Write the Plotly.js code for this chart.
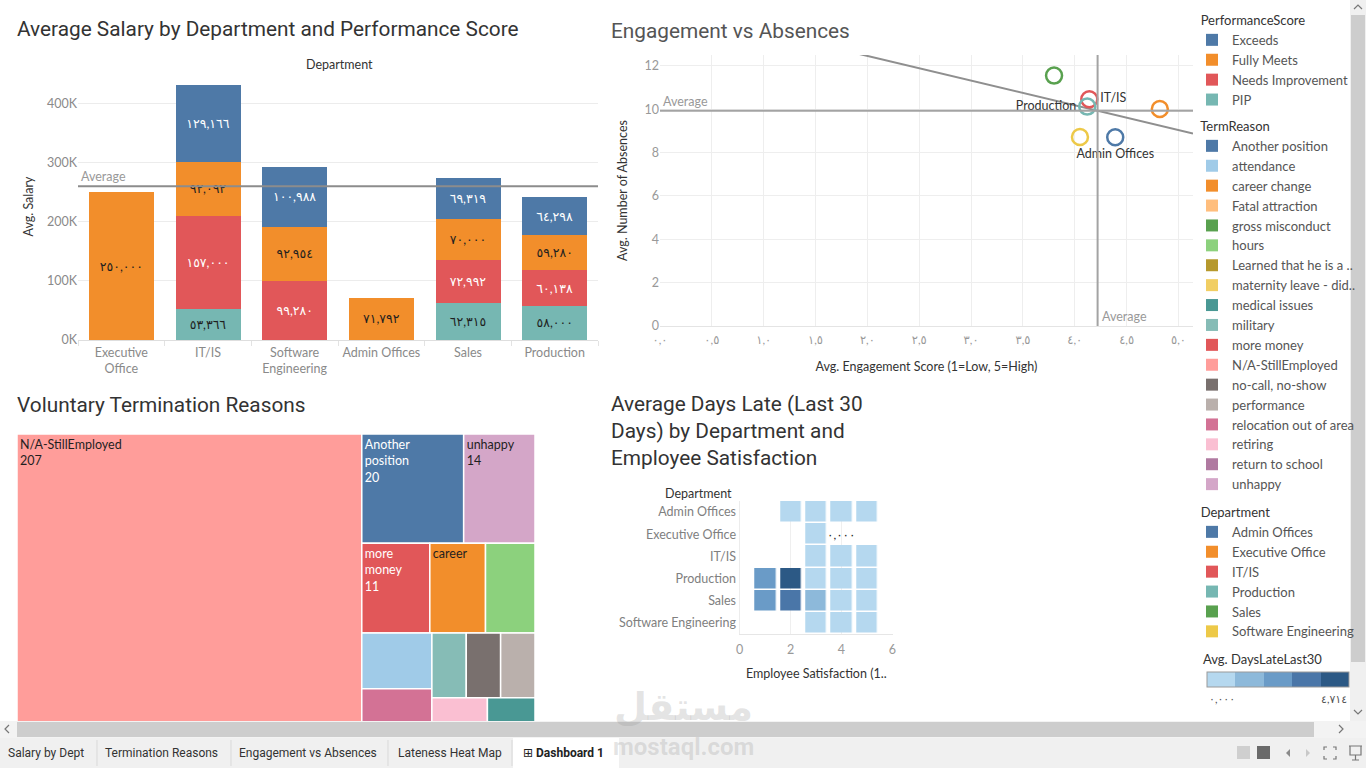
<!DOCTYPE html>
<html><head><meta charset="utf-8">
<script src="https://cdn.plot.ly/plotly-3.0.1.min.js"></script>
<style>html,body{margin:0;padding:0;overflow:hidden;background:#fff}#chart{width:1366px;height:768px}</style>
</head><body><div id="chart"></div>
<script>
// ---------------- data ----------------
const departments = ['Executive Office','IT/IS','Software Engineering','Admin Offices','Sales','Production'];
const deptTickLabels = ['Executive<br>Office','IT/IS','Software<br>Engineering','Admin Offices','Sales','Production'];
const perfScores = ['PIP','Needs Improvement','Fully Meets','Exceeds']; // stacking order, bottom -> top
const salaryPIP = [null,53366,null,null,62315,58000];
const salaryNeedsImprovement = [null,157000,99280,null,72992,60138];
const salaryFullyMeets = [250000,92092,92954,71792,70000,59280];
const salaryExceeds = [null,129166,100988,null,69319,64298];
const salaryTicks = [0,100000,200000,300000,400000];
const salaryTickLabels = ['0K','100K','200K','300K','400K'];

const scatterDepts = ['Admin Offices','Executive Office','IT/IS','Production','Sales','Software Engineering'];
const engagement = [4.39,4.82,4.14,4.12,3.80,4.05];
const absences = [8.71,10.01,10.46,10.12,11.55,8.72];
const scatterLabels = ['Admin Offices','','IT/IS','Production','',''];
const engagementTicks = [0,0.5,1,1.5,2,2.5,3,3.5,4,4.5,5];
const absenceTicks = [0,2,4,6,8,10,12];

const termReasons = ['Another position','attendance','career change','Fatal attraction','gross misconduct','hours','Learned that he is a Gangster','maternity leave - did not return','medical issues','military','more money','N/A-StillEmployed','no-call, no-show','performance','relocation out of area','retiring','return to school','unhappy'];
const termCounts = [20,7,9,1,1,8,1,3,3,4,11,207,4,4,5,4,5,14];
const termDisplay = ['Another<br>position<br>20','','career','','','','','','','','more<br>money<br>11','N/A-StillEmployed<br>207','','','','','','unhappy<br>14'];

const heatDepts = ['Admin Offices','Executive Office','IT/IS','Production','Sales','Software Engineering'];
const satisfaction = [1,2,3,4,5];
const daysLate = [
  [null,0.0,0.0,0.0,0.0],
  [null,null,0.0,null,null],
  [null,null,0.1,0.0,0.1],
  [2.3,4.714,0.2,0.1,0.1],
  [2.4,3.3,1.3,0.2,0.1],
  [null,null,0.0,0.1,0.0]
];
const satisfactionTicks = [0,2,4,6];

const legendDepartments = ['Admin Offices','Executive Office','IT/IS','Production','Sales','Software Engineering'];

// ---------------- styles ----------------
const perfColors = ['#76b7b2','#e15759','#f28e2b','#4e79a7'];
const deptColor = {'Admin Offices':'#4e79a7','Executive Office':'#f28e2b','IT/IS':'#e15759','Production':'#76b7b2','Sales':'#59a14f','Software Engineering':'#edc948'};
const termColors = ['#4e79a7','#a0cbe8','#f28e2b','#ffbe7d','#59a14f','#8cd17d','#b6992d','#f1ce63','#499894','#86bcb6','#e15759','#ff9d9a','#79706e','#bab0ac','#d37295','#fabfd2','#b07aa1','#d4a6c8'];
const scatterTextPos = ['bottom center','middle right','middle right','middle left','middle right','middle right'];
const lateColors = ['#b5d8ef','#8db9da','#6a9bc7','#4a76a8','#2c5985'];
const FONT = 'Lato, "Open Sans", "DejaVu Sans", sans-serif';
const TFONT = 'Roboto, "DejaVu Sans", sans-serif';
const W = 1366, H = 768;
const px = x => x / W, py = y => 1 - y / H;

const AR = '٠١٢٣٤٥٦٧٨٩';
const toArabic = s => String(s).replace(/[0-9]/g, d => AR[+d]);
const bright = hex => { const r=parseInt(hex.slice(1,3),16), g=parseInt(hex.slice(3,5),16), b=parseInt(hex.slice(5,7),16); return 0.299*r+0.587*g+0.114*b; };
const textOn = hex => bright(hex) < 145 ? '#ffffff' : '#1f1f1f';
const mean = a => a.reduce((s,v)=>s+v,0)/a.length;

// ---------------- traces ----------------
const data = [];
const barSeries = [salaryPIP, salaryNeedsImprovement, salaryFullyMeets, salaryExceeds];
perfScores.forEach((p,i) => {
  const vals = barSeries[i];
  data.push({type:'bar', x:departments, y:vals, name:p, xaxis:'x', yaxis:'y', legend:'legend',
    marker:{color:perfColors[i], line:{width:0}}, width:0.75,
    text: vals.map(v => v == null ? '' : toArabic(v.toLocaleString('en-US'))),
    textposition:'inside', insidetextanchor:'middle', textangle:0, constraintext:'none',
    textfont:{family:FONT, size:12.5, color:textOn(perfColors[i])}, hoverinfo:'skip'});
});
const totals = departments.map((_,j) => barSeries.reduce((s,ser)=>s+(ser[j]||0),0));
const avgSalary = mean(totals);

// scatter
const avgEng = mean(engagement), avgAbs = mean(absences);
let sxy=0, sxx=0;
engagement.forEach((x,i)=>{ sxy += (x-avgEng)*(absences[i]-avgAbs); sxx += (x-avgEng)**2; });
const slope = sxy/sxx, intercept = avgAbs - slope*avgEng;
const engRange = [0, 5.14];
data.push({type:'scatter', x:engRange, y:engRange.map(x=>intercept+slope*x), mode:'lines',
  line:{color:'#8f8f8f', width:2}, xaxis:'x2', yaxis:'y2', showlegend:false, hoverinfo:'skip'});
data.push({type:'scatter', x:engagement, y:absences, mode:'markers+text', text:scatterLabels,
  textposition:scatterTextPos, textfont:{family:FONT, size:12.5, color:'#333'},
  marker:{symbol:'circle-open', size:16, color:scatterDepts.map(d=>deptColor[d]), line:{width:2.5}},
  xaxis:'x2', yaxis:'y2', showlegend:false, cliponaxis:false, hoverinfo:'skip'});

// treemap
data.push({type:'treemap', labels:termReasons, parents:termReasons.map(()=>''), values:termCounts,
  text:termDisplay, textinfo:'text', texttemplate:'%{text}', textposition:'top left',
  textfont:{family:FONT, size:12.5, color:termColors.map(textOn)},
  marker:{colors:termColors, line:{width:1.5, color:'#ffffff'}, pad:{t:0,l:0,r:0,b:0}},
  tiling:{packing:'squarify', squarifyratio:1.618, pad:0}, pathbar:{visible:false}, sort:true,
  domain:{x:[px(17), px(535)], y:[0, py(434)]}, hoverinfo:'skip'});

// heatmap
const steps = [];
lateColors.forEach((c,i)=>{ steps.push([i/lateColors.length, c]); steps.push([(i+1)/lateColors.length, c]); });
const maxLate = Math.max(...daysLate.flat().filter(v=>v!=null));
data.push({type:'heatmap', x:satisfaction, y:heatDepts, z:daysLate, xaxis:'x3', yaxis:'y3',
  colorscale:steps, zmin:0, zmax:maxLate, xgap:4.5, ygap:1.5, hoverinfo:'skip', showscale:true,
  colorbar:{orientation:'h', x:px(1207), xanchor:'left', y:py(672), yanchor:'top', len:142, lenmode:'pixels',
    thickness:15, thicknessmode:'pixels', outlinecolor:'#9a9a9a', outlinewidth:1, xpad:0, ypad:0,
    showticklabels:false, ticks:''}});

// legend swatches
const swatch = (name, color, legendId) => ({type:'scatter', x:[null], y:[null], xaxis:'x2', yaxis:'y2',
  mode:'markers', name, legend:legendId, marker:{symbol:'square', size:12, color, line:{width:0}}, hoverinfo:'skip'});
termReasons.forEach((r,i)=> data.push(swatch(r.length > 22 ? r.slice(0,21)+'..' : r, termColors[i], 'legend2')));
legendDepartments.forEach(d => data.push(swatch(d, deptColor[d], 'legend3')));

// ---------------- layout ----------------
const tickFont = {family:FONT, size:12.5, color:'#8a8a8a'};
const titleFont = {family:FONT, size:12.5, color:'#333'};
const legendBase = {xanchor:'left', yanchor:'top', bgcolor:'rgba(0,0,0,0)', borderwidth:0,
  font:{family:FONT, size:13, color:'#555'}, itemclick:false, itemdoubleclick:false, tracegroupgap:0};
const IND = '\u00a0\u00a0';

const P = (x,y) => `${px(x)},${py(y)}`;
const shapes = [
  {type:'line', xref:'x domain', yref:'y', x0:0, x1:1, y0:avgSalary, y1:avgSalary, line:{color:'#8c8c8c', width:2}, layer:'above'},
  {type:'line', xref:'x2 domain', yref:'y2', x0:0, x1:1, y0:avgAbs, y1:avgAbs, line:{color:'#a3a3a3', width:2}, layer:'above'},
  {type:'line', xref:'x2', yref:'y2 domain', x0:avgEng, x1:avgEng, y0:0, y1:1, line:{color:'#a3a3a3', width:2}, layer:'above'},
  // vertical scrollbar
  {type:'rect', xref:'paper', yref:'paper', x0:px(1350), x1:px(1366), y0:py(721), y1:py(0), fillcolor:'#f0f0f0', line:{width:0}, layer:'above'},
  {type:'rect', xref:'paper', yref:'paper', x0:px(1351), x1:px(1365), y0:py(662), y1:py(15), fillcolor:'#cdcdcd', line:{width:0}, layer:'above'},
  {type:'path', xref:'paper', yref:'paper', path:`M${P(1354,9)}L${P(1358,5)}L${P(1362,9)}`, line:{color:'#777', width:1.2}, layer:'above'},
  {type:'path', xref:'paper', yref:'paper', path:`M${P(1354,710)}L${P(1358,714)}L${P(1362,710)}`, line:{color:'#777', width:1.2}, layer:'above'},
  // horizontal scrollbar
  {type:'rect', xref:'paper', yref:'paper', x0:0, x1:1, y0:py(738), y1:py(721), fillcolor:'#f3f3f3', line:{width:0}, layer:'above'},
  {type:'rect', xref:'paper', yref:'paper', x0:px(17), x1:px(1314), y0:py(737), y1:py(722), fillcolor:'#cdcdcd', line:{width:0}, layer:'above'},
  {type:'path', xref:'paper', yref:'paper', path:`M${P(9,725)}L${P(5,729)}L${P(9,733)}`, line:{color:'#777', width:1.2}, layer:'above'},
  {type:'path', xref:'paper', yref:'paper', path:`M${P(1339,725)}L${P(1343,729)}L${P(1339,733)}`, line:{color:'#777', width:1.2}, layer:'above'},
  // tab bar
  {type:'rect', xref:'paper', yref:'paper', x0:0, x1:1, y0:0, y1:py(738), fillcolor:'#f0f0f0', line:{width:0}, layer:'above'},
  {type:'rect', xref:'paper', yref:'paper', x0:px(513), x1:px(619), y0:0, y1:py(738), fillcolor:'#ffffff', line:{width:0}, layer:'above'},
  ...[97,231,388,512].map(x => ({type:'line', xref:'paper', yref:'paper', x0:px(x), x1:px(x), y0:py(766), y1:py(740), line:{color:'#d9d9d9', width:1}, layer:'above'})),
  {type:'rect', xref:'paper', yref:'paper', x0:px(1237), x1:px(1250), y0:py(759), y1:py(746), fillcolor:'#cfcfcf', line:{width:0}, layer:'above'},
  {type:'rect', xref:'paper', yref:'paper', x0:px(1257), x1:px(1270), y0:py(759), y1:py(746), fillcolor:'#6a6a6a', line:{width:0}, layer:'above'},
  {type:'path', xref:'paper', yref:'paper', path:`M${P(1290,749)}L${P(1286,753)}L${P(1290,757)}Z`, fillcolor:'#8a8a8a', line:{width:0}, layer:'above'},
  {type:'path', xref:'paper', yref:'paper', path:`M${P(1306,749)}L${P(1310,753)}L${P(1306,757)}Z`, fillcolor:'#c8c8c8', line:{width:0}, layer:'above'},
  {type:'path', xref:'paper', yref:'paper', path:`M${P(1324,750)}L${P(1324,747)}L${P(1327,747)}M${P(1333,747)}L${P(1336,747)}L${P(1336,750)}M${P(1336,756)}L${P(1336,759)}L${P(1333,759)}M${P(1327,759)}L${P(1324,759)}L${P(1324,756)}`, line:{color:'#777', width:1.2}, layer:'above'},
  {type:'path', xref:'paper', yref:'paper', path:`M${P(1349,746)}L${P(1362,746)}M${P(1350,746)}L${P(1350,755)}L${P(1361,755)}L${P(1361,746)}M${P(1355.5,755)}L${P(1355.5,760)}M${P(1352,760)}L${P(1359,760)}`, line:{color:'#777', width:1.2}, layer:'above'}
];

const ann = (text, x, y, o={}) => Object.assign({text, x:px(x), y:py(y), xref:'paper', yref:'paper', showarrow:false,
  xanchor:'left', yanchor:'middle', align:'left', font:{family:FONT, size:12.5, color:'#333'}}, o);
const TT = {family:TFONT, size:20.8, color:'#333'};
const annotations = [
  ann('Average Salary by Department and Performance Score', 15, 29, {font:TT}),
  ann('Engagement vs Absences', 609, 31, {font:Object.assign({}, TT, {color:'#555'})}),
  ann('Voluntary Termination Reasons', 15, 405, {font:TT}),
  ann('Average Days Late (Last 30<br>Days) by Department and<br>Employee Satisfaction', 609, 431, {font:TT}),
  ann('Department', 339, 64, {xanchor:'center'}),
  ann('Department', 734, 493, {xanchor:'right'}),
  ann('Avg. DaysLateLast30', 1201, 659, {font:{family:FONT, size:13, color:'#333'}}),
  {text:'Average', xref:'x domain', yref:'y', x:0, y:avgSalary, xanchor:'left', yanchor:'bottom', xshift:1, showarrow:false, font:{family:FONT, size:12.5, color:'#999'}},
  {text:'Average', xref:'x2 domain', yref:'y2', x:0, y:avgAbs, xanchor:'left', yanchor:'bottom', xshift:1, showarrow:false, font:{family:FONT, size:12.5, color:'#999'}},
  {text:'Average', xref:'x2', yref:'y2 domain', x:avgEng, y:0, xanchor:'left', yanchor:'bottom', xshift:2, showarrow:false, font:{family:FONT, size:12.5, color:'#999'}},
  {text:toArabic('0.000'.replace('.',',')), xref:'x3', yref:'y3', x:4, y:'Executive Office', showarrow:false, font:{family:FONT, size:12, color:'#222'}},
  ann(toArabic((0).toFixed(3).replace('.',',')), 1207, 698, {font:{family:FONT, size:11, color:'#555'}}),
  ann(toArabic(maxLate.toFixed(3).replace('.',',')), 1349, 698, {xanchor:'right', font:{family:FONT, size:11, color:'#555'}}),
  // tabs
  ann('Salary by Dept', 6, 753, {font:{family:TFONT, size:12, color:'#333'}}),
  ann('Termination Reasons', 103, 753, {font:{family:TFONT, size:12, color:'#333'}}),
  ann('Engagement vs Absences', 237, 753, {font:{family:TFONT, size:12, color:'#333'}}),
  ann('Lateness Heat Map', 396, 753, {font:{family:TFONT, size:12, color:'#333'}}),
  ann('⊞ <b>Dashboard 1</b>', 521, 753, {font:{family:TFONT, size:12, color:'#222'}}),
  // watermark
  ann('مستقل', 683, 707, {xanchor:'center', font:{family:'"DejaVu Sans", sans-serif', size:38, color:'rgba(150,150,150,0.26)', weight:700}}),
  ann('mostaql.com', 683, 747, {xanchor:'center', font:{family:'Roboto, sans-serif', size:24, color:'rgba(150,150,150,0.26)', weight:700}})
];

const layout = {
  width:W, height:H, margin:{l:0, r:0, t:0, b:0, pad:0, autoexpand:false},
  paper_bgcolor:'#ffffff', plot_bgcolor:'rgba(0,0,0,0)', font:{family:FONT, color:'#555'},
  barmode:'stack', showlegend:true,
  uniformtext:{mode:'show', minsize:12.5},
  xaxis:{domain:[px(78), px(598)], anchor:'y', type:'category', categoryorder:'array', categoryarray:departments,
    tickmode:'array', tickvals:departments, ticktext:deptTickLabels, tickangle:0, tickson:'boundaries', ticks:'outside', ticklen:5,
    ticklabelstandoff:3, tickcolor:'#e3e3e3', showgrid:false, zeroline:false, showline:false, tickfont:tickFont, fixedrange:true},
  yaxis:{domain:[py(340), py(73)], anchor:'x', range:[0, 452500], tickmode:'array', tickvals:salaryTicks, ticktext:salaryTickLabels,
    gridcolor:'#ececec', zeroline:true, zerolinecolor:'#dedede', showline:false, ticks:'', tickfont:tickFont,
    title:{text:'Avg. Salary', font:titleFont, standoff:10}, fixedrange:true},
  xaxis2:{domain:[px(660), px(1193)], anchor:'y2', range:engRange, tickmode:'array', tickvals:engagementTicks,
    ticktext:engagementTicks.map(v=>toArabic(v.toFixed(1).replace('.',','))), gridcolor:'#eeeeee', zeroline:false,
    showline:false, ticks:'', tickfont:{family:FONT, size:11.5, color:'#999'}, ticklabelstandoff:5,
    title:{text:'Avg. Engagement Score (1=Low, 5=High)', font:titleFont, standoff:17}, fixedrange:true},
  yaxis2:{domain:[py(326), py(55)], anchor:'x2', range:[0, 12.5], tickmode:'array', tickvals:absenceTicks,
    gridcolor:'#eeeeee', zeroline:true, zerolinecolor:'#e4e4e4', showline:false, ticks:'', tickfont:{family:FONT, size:12.5, color:'#999'},
    title:{text:'Avg. Number of Absences', font:titleFont, standoff:14}, fixedrange:true},
  xaxis3:{domain:[px(739.5), px(893)], anchor:'y3', range:[0, 6.02], tickmode:'array', tickvals:satisfactionTicks,
    gridcolor:'#efefef', zeroline:false, showline:true, linecolor:'#e6e6e6', ticks:'', tickfont:{family:FONT, size:12.5, color:'#999'},
    ticklabelstandoff:4, title:{text:'Employee Satisfaction (1..', font:titleFont, standoff:13}, fixedrange:true},
  yaxis3:{domain:[py(634), py(501)], anchor:'x3', type:'category', categoryorder:'array', categoryarray:heatDepts,
    autorange:'reversed', showgrid:false, zeroline:false, showline:true, linecolor:'#ececec', ticks:'',
    tickfont:{family:FONT, size:12.5, color:'#808080'}, fixedrange:true},
  legend:Object.assign({}, legendBase, {x:px(1192), y:py(8), traceorder:'reversed',
    title:{text:IND+'PerformanceScore', font:{family:FONT, size:13, color:'#333'}}}),
  legend2:Object.assign({}, legendBase, {x:px(1192), y:py(114), traceorder:'normal',
    title:{text:IND+'TermReason', font:{family:FONT, size:13, color:'#333'}}}),
  legend3:Object.assign({}, legendBase, {x:px(1192), y:py(500), traceorder:'normal',
    title:{text:IND+'Department', font:{family:FONT, size:13, color:'#333'}}}),
  shapes, annotations
};

Plotly.newPlot('chart', data, layout, {displayModeBar:false, staticPlot:true});
</script>
</body></html>
